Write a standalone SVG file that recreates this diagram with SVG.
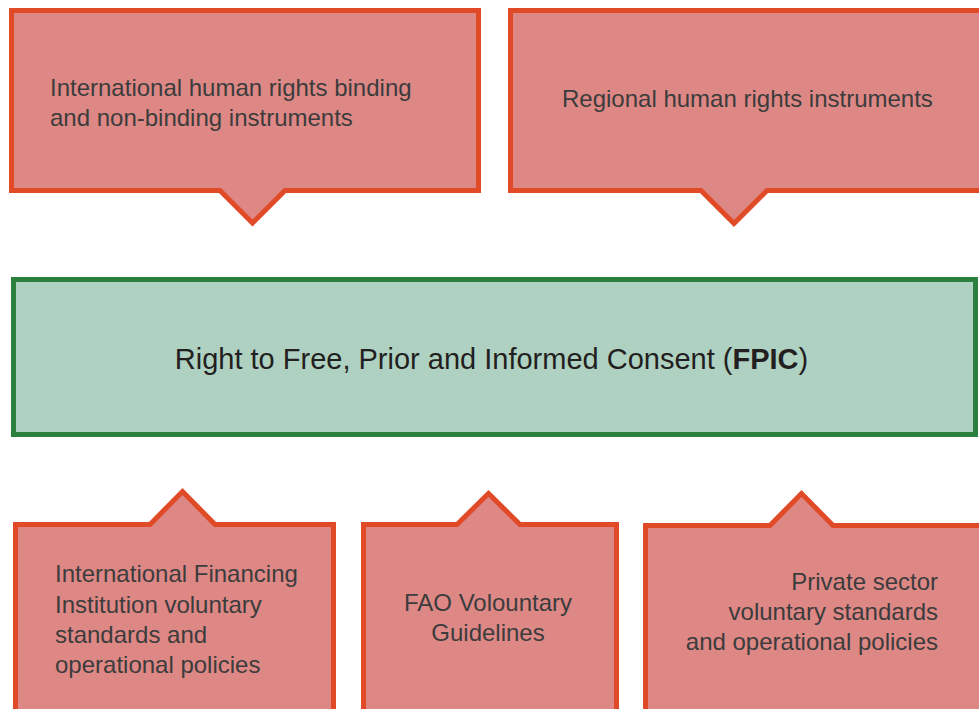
<svg xmlns="http://www.w3.org/2000/svg" width="979" height="709" viewBox="0 0 979 709">
<style>
.box{fill:#de8886;stroke:#e04a26;stroke-width:5;stroke-linejoin:miter}
.core{fill:#afd1c2;stroke:#2a7f3e;stroke-width:5}
.t{font-family:"Liberation Sans",Arial,sans-serif;font-size:24px;fill:#3c3c3c}
.tc{font-family:"Liberation Sans",Arial,sans-serif;font-size:29px;fill:#231f20}
</style>
<rect width="979" height="709" fill="#ffffff"/>
<g id="connectors"></g>
<g id="node-intl">
<path class="box" d="M11.5,10.5 H478.5 V190.5 H285 L252.5,223 L220,190.5 H11.5 Z"/>
<text class="t" x="50" y="96">International human rights binding</text>
<text class="t" x="50" y="126">and non-binding instruments</text>
</g>
<g id="node-regional">
<path class="box" d="M510.5,10.5 H990 V190.5 H767 L734,223.5 L701,190.5 H510.5 Z"/>
<text class="t" x="562" y="107">Regional human rights instruments</text>
</g>
<g id="node-fpic">
<rect class="core" x="13.5" y="279.5" width="962" height="155"/>
<text class="tc" x="491.5" y="369" text-anchor="middle">Right to Free, Prior and Informed Consent (<tspan font-weight="bold">FPIC</tspan>)</text>
</g>
<g id="node-ifi">
<path class="box" d="M15.5,524.5 H150 L182.5,491.5 L215,524.5 H333.5 V720 H15.5 Z"/>
<text class="t" x="55" y="582">International Financing</text>
<text class="t" x="55" y="613">Institution voluntary</text>
<text class="t" x="55" y="643">standards and</text>
<text class="t" x="55" y="673">operational policies</text>
</g>
<g id="node-fao">
<path class="box" d="M363.5,524.5 H457 L488.5,493.5 L520,524.5 H616.5 V720 H363.5 Z"/>
<text class="t" x="488" y="611" text-anchor="middle">FAO Volountary</text>
<text class="t" x="488" y="641" text-anchor="middle">Guidelines</text>
</g>
<g id="node-private">
<path class="box" d="M645.5,525.5 H770 L801.5,493.5 L833,525.5 H990 V720 H645.5 Z"/>
<text class="t" x="938" y="590" text-anchor="end">Private sector</text>
<text class="t" x="938" y="620" text-anchor="end">voluntary standards</text>
<text class="t" x="938" y="650" text-anchor="end">and operational policies</text>
</g>
</svg>
